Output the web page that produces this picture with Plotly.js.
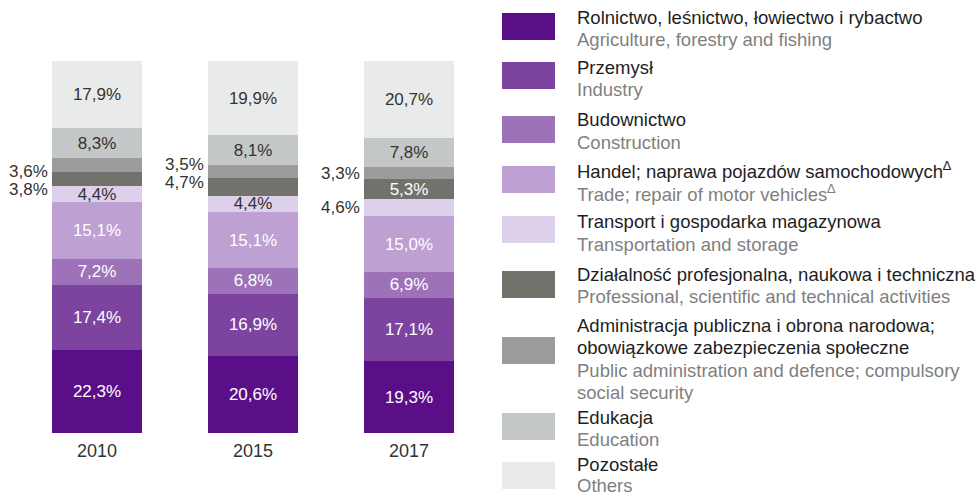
<!DOCTYPE html>
<html>
<head>
<meta charset="utf-8">
<script src="https://cdn.plot.ly/plotly-3.0.1.min.js"></script>
<style>html,body{margin:0;padding:0;background:#fff;}#chart{width:978px;height:495px;}</style>
</head>
<body>
<div id="chart"></div>
<script>
// ---- data ----
const categories = ['2010', '2015', '2017'];
const agriculture    = [22.3, 20.6, 19.3];
const industry       = [17.4, 16.9, 17.1];
const construction   = [7.2, 6.8, 6.9];
const trade          = [15.1, 15.1, 15.0];
const transport      = [4.4, 4.4, 4.6];
const professional   = [3.8, 4.7, 5.3];
const administration = [3.6, 3.5, 3.3];
const education      = [8.3, 8.1, 7.8];
const others         = [17.9, 19.9, 20.7];

const namesPL = [
  ['Rolnictwo, leśnictwo, łowiectwo i rybactwo'],
  ['Przemysł'],
  ['Budownictwo'],
  ['Handel; naprawa pojazdów samochodowych<sup>∆</sup>'],
  ['Transport i gospodarka magazynowa'],
  ['Działalność profesjonalna, naukowa i techniczna'],
  ['Administracja publiczna i obrona narodowa;', 'obowiązkowe zabezpieczenia społeczne'],
  ['Edukacja'],
  ['Pozostałe']
];
const namesEN = [
  ['Agriculture, forestry and fishing'],
  ['Industry'],
  ['Construction'],
  ['Trade; repair of motor vehicles<sup>∆</sup>'],
  ['Transportation and storage'],
  ['Professional, scientific and technical activities'],
  ['Public administration and defence; compulsory', 'social security'],
  ['Education'],
  ['Others']
];

// ---- styling ----
const series = [agriculture, industry, construction, trade, transport, professional, administration, education, others];
const colors = ['#5a0f88', '#7d449f', '#9d72b8', '#bea0d2', '#ddd0ea', '#72726d', '#9c9c9c', '#c4c7c7', '#e9ebea'];
const textColors = ['#ffffff', '#ffffff', '#ffffff', '#ffffff', '#333333', '#ffffff', '#333333', '#333333', '#333333'];
// which labels are drawn inside the bar (others drawn to the left)
const inside = [
  [1,1,1],[1,1,1],[1,1,1],[1,1,1],[1,1,0],[0,0,1],[0,0,0],[1,1,1],[1,1,1]
];
// vertical nudges (px) for outside labels
const outsideShift = {'5,0': -11, '6,0': -6, '5,1': 4, '6,1': 7, '6,2': 0, '4,2': 0};

const FONT = 'Arial, "Liberation Sans", Helvetica, sans-serif';
const fmt = v => v.toFixed(1).replace('.', ',') + '%';

const traces = series.map((vals, s) => ({
  type: 'bar',
  x: categories,
  y: vals,
  marker: {color: colors[s], line: {width: 0}},
  text: vals.map((v, i) => inside[s][i] ? fmt(v) : ''),
  textposition: 'inside',
  insidetextanchor: 'middle',
  textangle: 0,
  constraintext: 'none',
  insidetextfont: {family: FONT, size: 17, color: textColors[s]},
  hoverinfo: 'skip',
  showlegend: false
}));

const W = 978, H = 495;
const M = {l: 0, r: 500, t: 61, b: 62};
const plotW = W - M.l - M.r, plotH = H - M.t - M.b;
const px = x => (x - M.l) / plotW;
const py = y => (H - M.b - y) / plotH;
const barWidth = 0.583;

const annotations = [];
const shapes = [];

// outside labels (left of the bars)
series.forEach((vals, s) => {
  vals.forEach((v, i) => {
    if (inside[s][i]) return;
    let base = 0;
    for (let k = 0; k < s; k++) base += series[k][i];
    annotations.push({
      xref: 'x', yref: 'y', x: i - barWidth / 2, y: base + v / 2,
      text: fmt(v), showarrow: false, xanchor: 'right', yanchor: 'middle',
      xshift: -2, yshift: outsideShift[s + ',' + i] || 0,
      font: {family: FONT, size: 17, color: '#333333'}
    });
  });
});

// custom legend
const firstLine = [17, 67, 120, 170, 222, 274, 325, 417, 464];
const swatchTop = [13, 62, 116, 166, 216, 271, 337, 413, 462];
const lineGap = 22.5;
namesPL.forEach((pl, s) => {
  shapes.push({
    type: 'rect', xref: 'paper', yref: 'paper',
    x0: px(502), x1: px(555), y0: py(swatchTop[s] + 27), y1: py(swatchTop[s]),
    fillcolor: colors[s], line: {width: 0}
  });
  const lines = pl.map(t => ({t, c: '#1e1e1e'})).concat(namesEN[s].map(t => ({t, c: '#7f7f7f'})));
  const gap = s === 8 ? 21.5 : lineGap;
  lines.forEach((ln, j) => {
    annotations.push({
      xref: 'paper', yref: 'paper', x: px(575), y: py(firstLine[s] + j * gap),
      text: ln.t, showarrow: false, xanchor: 'left', yanchor: 'middle',
      font: {family: FONT, size: 18.5, color: ln.c}
    });
  });
});

const layout = {
  width: W, height: H,
  margin: M,
  barmode: 'stack',
  bargap: 1 - barWidth,
  paper_bgcolor: '#ffffff',
  plot_bgcolor: '#ffffff',
  xaxis: {
    type: 'category',
    range: [-97 / 156, (plotW - 97) / 156],
    showgrid: false, zeroline: false, showline: false, ticks: '',
    ticklabelstandoff: 5,
    tickfont: {family: FONT, size: 18, color: '#333333'},
    fixedrange: true
  },
  yaxis: {
    range: [0, 100],
    showgrid: false, zeroline: false, showline: false, ticks: '',
    showticklabels: false, fixedrange: true
  },
  annotations, shapes,
  font: {family: FONT}
};

Plotly.newPlot('chart', traces, layout, {displayModeBar: false, staticPlot: true});
</script>
</body>
</html>
